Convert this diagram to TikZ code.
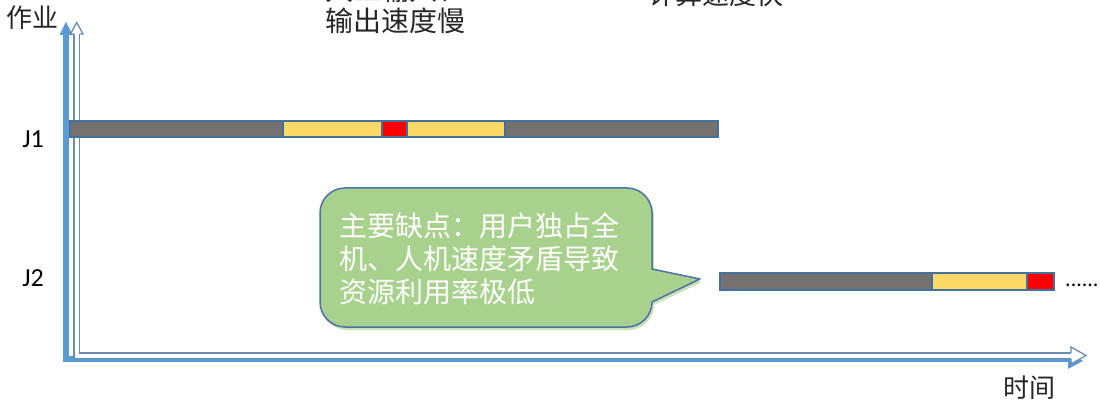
\documentclass[tikz,border=0pt]{standalone}
\usepackage{fontspec}
\newfontfamily\cjk{Noto Sans CJK SC}
\newfontfamily\lat{Carlito}
\definecolor{bargray}{HTML}{767171}
\definecolor{baryellow}{HTML}{FFD966}
\definecolor{barred}{HTML}{FF0000}
\definecolor{barborder}{HTML}{41719C}
\definecolor{axisblue}{HTML}{5B9BD5}
\definecolor{axisline}{HTML}{6D8CB0}
\definecolor{calloutgreen}{HTML}{A9D18E}
\definecolor{calloutshadow}{HTML}{C9E2B8}
\definecolor{calloutborder}{HTML}{4A72A6}
\definecolor{textdark}{HTML}{262626}
\begin{document}
\begin{tikzpicture}[x=1pt,y=-1pt,
  seg/.style={draw=barborder, line width=2pt},
  latlab/.style={inner sep=0pt, font=\lat\fontsize{22}{26}\selectfont, text=black},
  cjklab/.style={inner sep=0pt, font=\cjk\fontsize{28}{33}\selectfont, text=textdark},
  hollowhead/.style={draw=axisline, line width=1.3pt, line join=miter}
]
\useasboundingbox (0,0) rectangle (1100,403);
\clip (0,0) rectangle (1100,403);

% --- axes: solid blue L arrow ---
\coordinate (origin) at (66,359);
\coordinate (xend) at (1070,359);
\coordinate (yend) at (66,34);
\draw[line width=6pt, axisblue] (xend) -- (origin) -- (yend);
\fill[axisblue] (66,22) -- (72.5,35) -- (59.5,35) -- cycle;
\fill[axisblue] (1083,361) -- (1068,352) -- (1068,369) -- cycle;

% --- axes: hollow double-line L arrow ---
\coordinate (horigin) at (76.75,355.5);
\coordinate (hxend) at (1071,355.5);
\coordinate (hyend) at (76.75,34);
\draw[axisline, line width=1.5pt, double=white, double distance=4pt] (hxend) -- (horigin) -- (hyend);
\fill[white] (70.5,34) -- (76.75,22.5) -- (83,34) -- cycle;
\draw[hollowhead] (74,34) -- (70.5,34) -- (76.75,22.5) -- (83,34) -- (79.5,34);
\fill[white] (1071,347) -- (1086,355.5) -- (1071,364) -- cycle;
\draw[hollowhead] (1071,352.75) -- (1071,347) -- (1086,355.5) -- (1071,364) -- (1071,358.25);

% --- J1 bar ---
\draw[seg, fill=bargray]   (70,121)    rectangle (283,137.5);
\draw[seg, fill=baryellow] (283,121)   rectangle (381.5,137.5);
\draw[seg, fill=barred]    (381.5,121) rectangle (407,137.5);
\draw[seg, fill=baryellow] (407,121)   rectangle (505,137.5);
\draw[seg, fill=bargray]   (505,121)   rectangle (718,137.5);

% --- J2 bar ---
\draw[seg, fill=bargray]   (719.5,273.5) rectangle (932,290.5);
\draw[seg, fill=baryellow] (932,273)     rectangle (1027,290);
\draw[seg, fill=barred]    (1027,273)    rectangle (1053.5,290);

% --- labels ---
\node[latlab, font=\lat\fontsize{26}{30}\selectfont] (j1) at (33,139) {J1};
\node[latlab, font=\lat\fontsize{26}{30}\selectfont] (j2) at (33,278) {J2};
\node[latlab, anchor=base west] (dots) at (1065,287) {......};
\node[cjklab, font=\cjk\fontsize{26}{30}\selectfont] (zuoye) at (32,18) {作业};
\node[cjklab, font=\cjk\fontsize{26}{30}\selectfont] (shijian) at (1029.5,388) {时间};
\node[cjklab, anchor=west] (io1) at (325,-10) {人工输入、};
\node[cjklab, anchor=west] (io2) at (325,21) {输出速度慢};
\node[cjklab, anchor=west, font=\cjk\fontsize{27}{32}\selectfont] (calc) at (648,-6) {计算速度快};

% --- callout ---
\fill[calloutshadow, shift={(2,3)}]
  (345,188) -- (627,188) .. controls (640.8,188) and (652,199.2) .. (652,213)
  -- (652,269) -- (700,279) -- (652,302)
  .. controls (652,315.8) and (640.8,327) .. (627,327)
  -- (345,327) .. controls (331.2,327) and (320,315.8) .. (320,302)
  -- (320,213) .. controls (320,199.2) and (331.2,188) .. (345,188) -- cycle;
\draw[calloutborder, line width=1.5pt, fill=calloutgreen, line join=round]
  (345,188) -- (627,188) .. controls (640.8,188) and (652,199.2) .. (652,213)
  -- (652,269) -- (700,279) -- (652,302)
  .. controls (652,315.8) and (640.8,327) .. (627,327)
  -- (345,327) .. controls (331.2,327) and (320,315.8) .. (320,302)
  -- (320,213) .. controls (320,199.2) and (331.2,188) .. (345,188) -- cycle;
\node[cjklab, text=white, anchor=west, align=left] (note) at (339,259)
  {主要缺点：用户独占全\\机、人机速度矛盾导致\\资源利用率极低};
\end{tikzpicture}
\end{document}
